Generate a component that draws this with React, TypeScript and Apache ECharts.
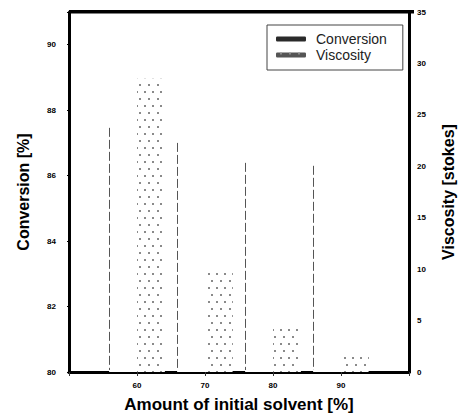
import React, { useEffect, useRef } from 'react';
import * as echarts from 'echarts';

// Data
const solventLevels = ['60', '70', '80', '90'];
const conversion = [87.46, 87.0, 86.39, 86.3];
const viscosity = [28.5, 10.0, 4.2, 1.8];
const leftTicks = [80, 82, 84, 86, 88, 90];
const rightTicks = [0, 5, 10, 15, 20, 25, 30, 35];

// Axis padding categories (empty slots at both ends, unlabeled)
const axisCats = ['50', ...solventLevels, '100'];
const pad = (arr: number[]) => [null, ...arr, null];

const FONT = '"Liberation Sans", Arial, sans-serif';

const GRID = { left: 69, right: 50, top: 12, bottom: 48 };

export default function App() {
  const ref = useRef<HTMLDivElement>(null);
  useEffect(() => {
    const chart = echarts.init(ref.current!, null, { renderer: 'svg' });
    const tickLabel = {
      fontFamily: FONT,
      fontSize: 8,
      fontWeight: 900 as any,
      color: '#000',
    };
    const option: any = {
      animation: false,
      backgroundColor: '#fff',
      grid: { ...GRID, show: false },
      graphic: [
        {
          type: 'rect',
          z: 100,
          silent: true,
          shape: { x: GRID.left, y: GRID.top - 2, width: 464 - GRID.left - GRID.right, height: 3.5 },
          style: { fill: '#000' },
        },
      ],
      legend: {
        orient: 'vertical',
        left: 267,
        top: 25,
        padding: [7, 16, 8, 9],
        itemGap: 2,
        itemWidth: 30,
        itemHeight: 5,
        borderColor: '#444',
        borderWidth: 1,
        textStyle: { fontFamily: FONT, fontSize: 14, color: '#222', padding: [0, 0, 0, 5] },
        data: [
          { name: 'Conversion', itemStyle: { color: '#2a2a2a' } },
          { name: 'Viscosity', itemStyle: { color: '#555' } },
        ],
      },
      xAxis: {
        type: 'category',
        data: axisCats,
        boundaryGap: false,
        axisLine: { lineStyle: { color: '#000', width: 3 } },
        axisTick: { show: true, length: 4, lineStyle: { color: '#333', width: 1 } },
        axisLabel: {
          ...tickLabel,
          margin: 9,
          formatter: (v: string) => (solventLevels.includes(v) ? v : ''),
        },
        name: 'Amount of initial solvent [%]',
        nameLocation: 'middle',
        nameGap: 24,
        nameTextStyle: { fontFamily: FONT, fontSize: 17, fontWeight: 'bold', color: '#000' },
        splitLine: { show: false },
      },
      yAxis: [
        {
          type: 'value',
          min: 80,
          max: 91,
          interval: 2,
          position: 'left',
          axisLine: { show: true, lineStyle: { color: '#000', width: 3 } },
          axisTick: { show: true, length: 2, lineStyle: { color: '#000' } },
          axisLabel: {
            ...tickLabel,
            margin: 13,
            formatter: (v: number) => (leftTicks.includes(v) ? String(v) : ''),
          },
          splitLine: { show: false },
          name: 'Conversion [%]',
          nameLocation: 'middle',
          nameGap: 38,
          nameTextStyle: { fontFamily: FONT, fontSize: 16, fontWeight: 'bold', color: '#000' },
        },
        {
          type: 'value',
          min: 0,
          max: 35,
          interval: 5,
          position: 'right',
          axisLine: { show: true, lineStyle: { color: '#000', width: 3 } },
          axisTick: { show: true, length: 2, lineStyle: { color: '#000' } },
          axisLabel: {
            ...tickLabel,
            margin: 8,
            formatter: (v: number) => (rightTicks.includes(v) ? String(v) : ''),
          },
          splitLine: { show: false },
          name: 'Viscosity [stokes]',
          nameLocation: 'middle',
          nameGap: 31,
          nameTextStyle: { fontFamily: FONT, fontSize: 16, fontWeight: 'bold', color: '#000' },
        },
      ],
      series: [
        {
          name: 'Conversion',
          type: 'bar',
          yAxisIndex: 0,
          data: pad(conversion),
          barWidth: '41%',
          barGap: '0%',
          itemStyle: { color: '#fff' },
        },
        {
          name: 'Viscosity',
          type: 'bar',
          yAxisIndex: 1,
          data: pad(viscosity),
          barWidth: '41%',
          barGap: '0%',
          itemStyle: {
            color: '#fff',
            decal: {
              symbol: 'rect',
              symbolSize: 1,
              color: '#8a8a8a',
              dashArrayX: [[1.2, 6], [0, 3.6, 1.2, 2.4]],
              dashArrayY: [1.2, 4.5],
            },
          },
        },
        {
          type: 'custom',
          yAxisIndex: 0,
          silent: true,
          z: 3,
          data: solventLevels.map((c, i) => [c, conversion[i]]),
          renderItem: (params: any, api: any) => {
            const idx = api.value(0);
            const v = api.value(1);
            const top = api.coord([idx, v]);
            const base = api.coord([idx, 80]);
            const w = api.size([1, 0])[0] * 0.41;
            const x = Math.round(top[0] - w) + 0.5;
            return {
              type: 'line',
              shape: { x1: x, y1: top[1], x2: x, y2: base[1] - 2 },
              style: { stroke: '#555', lineWidth: 1, lineDash: [9, 3] },
            };
          },
        },
      ],
    };
    chart.setOption(option);
    return () => chart.dispose();
  }, []);
  return (
    <div
      ref={ref}
      style={{ position: 'fixed', left: 0, top: 0, width: 464, height: 420, background: '#fff' }}
    />
  );
}
